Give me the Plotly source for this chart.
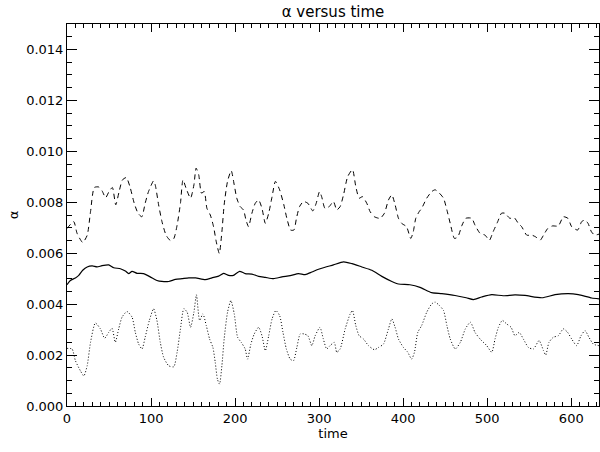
import plotly.graph_objects as go

# dashed series (top)
t_dash = [0, 8, 12, 18.7, 24, 28, 32.5, 37.7, 41.7, 46, 50, 54, 58, 62, 66, 70.6, 75, 80, 84.5, 89, 93, 97,
          103, 105, 109, 113, 118, 123, 127, 131, 135, 138, 141.7, 147, 151, 153.6, 156.7, 160, 163.3, 166.5,
          170.5, 174.4, 177.6, 181.2, 184.3, 187, 191, 195.4, 199, 202, 206, 210, 213, 216, 220, 224, 228, 232,
          236, 240, 244, 248, 253, 258, 261.6, 266, 270, 273, 276.7, 281.4, 286.6, 292.5, 296.5, 300.5, 303,
          307, 312, 317, 321, 325, 329, 334, 339.7, 343.6, 347.6, 351.6, 356.7, 360.7, 365.8, 372.6, 377.7,
          382.5, 386.5, 390.4, 394.4, 398.3, 404, 409, 412, 415, 419, 422, 428, 434, 438, 443, 448, 452, 456,
          461, 465, 470, 474.5, 481.6, 485.5, 491.5, 497.4, 502.6, 507, 512.5, 517, 521, 527, 532, 537, 541,
          547, 553, 557.7, 563, 567, 572, 577.5, 584.6, 590.6, 596, 600.5, 607.6, 612.4, 616.4, 620, 624, 628, 633]
a_dash = [6.97, 7.24, 6.78, 6.42, 6.7, 7.63, 8.58, 8.6, 8.45, 8.18, 8.42, 8.58, 7.9, 8.42, 8.88, 8.97, 8.6,
          7.96, 7.57, 7.43, 7.96, 8.42, 8.84, 8.68, 7.9, 7.24, 6.7, 6.5, 6.57, 7.1, 7.96, 8.88, 8.55, 8.16,
          8.68, 9.34, 9.08, 8.36, 8.42, 7.76, 7.5, 7.04, 6.45, 5.99, 6.84, 7.9, 8.82, 9.24, 8.68, 8.16, 7.83,
          7.7, 7.3, 7.04, 7.57, 7.96, 8.09, 7.76, 7.17, 7.57, 8.22, 8.82, 8.49, 7.9, 7.37, 6.91, 6.91, 7.37,
          7.83, 8.03, 7.96, 7.66, 7.96, 8.42, 8.22, 7.76, 7.83, 8.03, 7.7, 7.83, 8.29, 9.01, 9.28, 8.62, 8.16,
          8.22, 7.96, 7.63, 7.43, 7.37, 7.57, 8.09, 8.29, 7.9, 7.37, 7.17, 7.04, 6.58, 6.84, 7.37, 7.63, 7.76,
          8.16, 8.42, 8.49, 8.36, 8.16, 7.7, 7.17, 6.58, 6.64, 7.1, 7.37, 7.37, 7.1, 6.78, 6.71, 6.51, 6.84,
          7.24, 7.57, 7.57, 7.37, 7.4, 7.17, 7.04, 6.71, 6.71, 6.64, 6.51, 6.71, 6.97, 7.07, 7.07, 7.43, 7.37,
          7.04, 6.91, 7.24, 7.3, 7.17, 6.84, 6.71, 6.75]

# solid series (middle)
t_solid = [0, 4, 10, 14, 18.7, 24, 30, 35.7, 41.7, 49.6, 55.6, 63.5, 69.4, 73.4, 77.4, 83.3, 91, 99, 107,
           113, 121, 129, 137, 145, 153, 164.5, 172.4, 180.4, 186.3, 192.3, 198, 205.3, 212, 220, 228, 236,
           245.8, 255.7, 265.6, 275.5, 283.4, 291.3, 299.3, 307, 317, 329, 339, 350.8, 362.7, 374.6, 386.5,
           394.4, 408, 420, 434, 446, 461.7, 475, 483.6, 493.5, 505.4, 519, 533, 545, 565, 580.7, 596.5,
           608.4, 624.3, 633]
a_solid = [4.76, 4.93, 5.03, 5.13, 5.33, 5.46, 5.5, 5.46, 5.51, 5.54, 5.43, 5.39, 5.3, 5.2, 5.29, 5.21, 5.2,
           5.07, 4.93, 4.89, 4.89, 4.97, 5.0, 5.03, 5.03, 4.96, 5.03, 5.1, 5.21, 5.13, 5.13, 5.29, 5.2, 5.18,
           5.09, 5.05, 5.0, 5.07, 5.12, 5.2, 5.16, 5.26, 5.37, 5.45, 5.54, 5.66, 5.59, 5.46, 5.33, 5.09, 4.89,
           4.79, 4.76, 4.66, 4.45, 4.41, 4.34, 4.25, 4.18, 4.28, 4.37, 4.33, 4.36, 4.34, 4.25, 4.37, 4.41,
           4.37, 4.24, 4.21]

# dotted series (bottom)
t_dot = [0, 6, 10, 16, 20, 24, 28, 33.7, 39.7, 44.8, 49.6, 53.6, 57.5, 61.5, 65.5, 71.4, 77.4, 81.3, 85.3,
         89.3, 93, 98, 103, 107, 111, 115, 121, 127, 131, 135, 139, 143, 147, 151, 154, 157.8, 161.7, 165.7,
         169.7, 173.6, 176.4, 179, 181.5, 184.3, 187, 191, 195, 199, 203, 207.3, 212, 214.8, 218.8, 222.8,
         228, 232, 236, 240, 244, 248.5, 253, 257, 261, 265.6, 269.5, 273.5, 277.5, 282, 286.6, 291.3,
         295.3, 301, 305, 309, 313, 318, 321, 325, 331, 337, 339.7, 343.6, 347.6, 352.8, 358.7, 365.8,
         370.6, 376.5, 382.5, 386.5, 390.4, 394.4, 400.3, 405.5, 410, 413.4, 417.4, 422, 428, 434, 438, 443,
         448, 452, 456, 462, 468, 474, 480, 485.5, 491.5, 499.4, 505.4, 509.3, 513.3, 518, 523.2, 528.4,
         533, 538, 543, 549, 555, 561.7, 567, 569.6, 573.5, 578.7, 584.6, 590.6, 595.7, 600.5, 606.4,
         611.6, 616.4, 621, 626.3, 633]
a_dot = [2.26, 2.24, 1.78, 1.38, 1.18, 1.58, 2.5, 3.26, 3.03, 2.66, 2.89, 3.05, 2.5, 3.03, 3.49, 3.71, 3.49,
         2.89, 2.43, 2.24, 2.7, 3.36, 3.82, 3.36, 2.5, 1.91, 1.58, 1.54, 2.11, 3.03, 3.82, 3.68, 3.09, 3.68,
         4.37, 3.36, 3.62, 3.16, 2.63, 2.3, 1.71, 1.05, 0.86, 1.58, 2.63, 3.68, 4.14, 3.62, 2.7, 2.5, 2.24,
         1.84, 2.43, 2.83, 3.09, 2.76, 2.17, 2.76, 3.42, 3.75, 3.55, 2.89, 2.24, 1.84, 1.78, 2.3, 2.83, 2.83,
         2.76, 2.37, 2.76, 3.09, 2.63, 2.24, 2.37, 2.5, 2.11, 2.24, 3.03, 3.62, 3.75, 3.16, 2.76, 2.63, 2.37,
         2.21, 2.3, 2.43, 3.03, 3.42, 3.09, 2.63, 2.3, 2.11, 1.84, 2.11, 2.89, 3.16, 3.68, 4.01, 4.08, 3.95,
         3.75, 3.16, 2.63, 2.24, 2.5, 3.03, 3.29, 2.89, 2.63, 2.37, 2.11, 2.63, 3.09, 3.36, 3.22, 3.09, 2.76,
         2.89, 2.63, 2.3, 2.24, 2.57, 2.17, 2.0, 2.5, 2.7, 2.76, 3.03, 2.89, 2.63, 2.37, 2.76, 2.96, 2.7,
         2.43, 2.37]

scale = 1e-3
FONT = "DejaVu Sans"

fig = go.Figure()
fig.add_trace(go.Scatter(x=t_dash, y=[v * scale for v in a_dash], mode="lines",
                         line=dict(color="black", width=1, dash="5px,4px", shape="spline", smoothing=0.6)))
fig.add_trace(go.Scatter(x=t_solid, y=[v * scale for v in a_solid], mode="lines",
                         line=dict(color="black", width=1.2, shape="spline", smoothing=0.6)))
fig.add_trace(go.Scatter(x=t_dot, y=[v * scale for v in a_dot], mode="lines",
                         line=dict(color="black", width=1, dash="1px,2px", shape="spline", smoothing=0.6)))

fig.update_layout(
    width=600, height=452,
    margin=dict(l=67, r=1, t=24, b=46),
    paper_bgcolor="white", plot_bgcolor="white",
    showlegend=False,
    font=dict(family=FONT, size=13, color="black"),
    title=dict(text="α versus time", x=0.5, xref="paper", xanchor="center",
               y=1 - 12 / 452, yref="container", yanchor="middle",
               font=dict(family=FONT, size=15, color="black")),
)
fig.update_xaxes(
    range=[0, 633], dtick=100, tick0=0, showgrid=False, zeroline=False,
    showline=True, linecolor="black", linewidth=1, mirror="allticks",
    ticks="inside", ticklen=8, tickwidth=1, tickcolor="black",
    minor=dict(ticks="inside", dtick=10, ticklen=4, tickcolor="black", showgrid=False),
    title=dict(text="time", standoff=2, font=dict(size=13)),
    tickfont=dict(size=13),
)
fig.update_yaxes(
    range=[0, 0.015], dtick=0.002, tick0=0, tickformat=".3f", showgrid=False, zeroline=False,
    showline=True, linecolor="black", linewidth=1, mirror="allticks",
    ticks="inside", ticklen=10, tickwidth=1, tickcolor="black",
    minor=dict(ticks="inside", dtick=0.0005, ticklen=5, tickcolor="black", showgrid=False),
    title=dict(text="α", standoff=4, font=dict(size=13)),
    tickfont=dict(size=13),
)

fig.write_html("out.html")
